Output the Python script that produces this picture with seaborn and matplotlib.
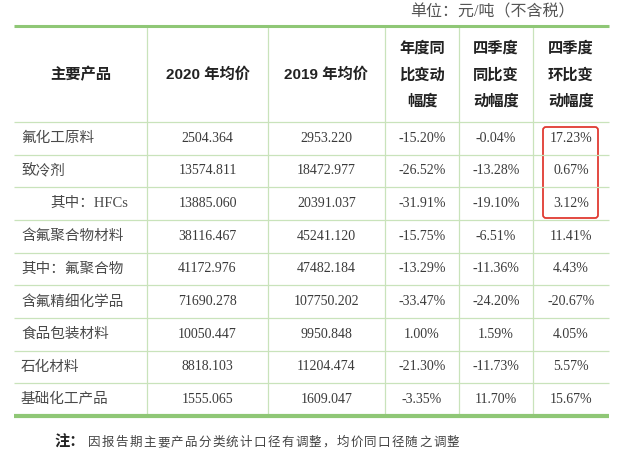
import numpy as np
import pandas as pd
import matplotlib.pyplot as plt
import seaborn as sns
from matplotlib.patches import FancyBboxPatch, Rectangle

# 表格数据
products = ['氟化工原料', '致冷剂', '其中：HFCs', '含氟聚合物材料', '其中：氟聚合物',
            '含氟精细化学品', '食品包装材料', '石化材料', '基础化工产品']
price_2020 = [2504.364, 13574.811, 13885.060, 38116.467, 41172.976,
              71690.278, 10050.447, 8818.103, 1555.065]
price_2019 = [2953.220, 18472.977, 20391.037, 45241.120, 47482.184,
              107750.202, 9950.848, 11204.474, 1609.047]
yoy = [-15.20, -26.52, -31.91, -15.75, -13.29, -33.47, 1.00, -21.30, -3.35]
q4_yoy = [-0.04, -13.28, -19.10, -6.51, -11.36, -24.20, 1.59, -11.73, 11.70]
q4_qoq = [17.23, 0.67, 3.12, 11.41, 4.43, -20.67, 4.05, 5.57, 15.67]
headers = ['主要产品', '2020 年均价', '2019 年均价',
           '年度同\n比变动\n幅度', '四季度\n同比变\n动幅度', '四季度\n环比变\n动幅度']
unit_text = '单位：元/吨（不含税）'
note_text = '因报告期主要产品分类统计口径有调整，均价同口径随之调整'

df = pd.DataFrame({
    'product': products,
    'p2020': [f'{v:.3f}' for v in price_2020],
    'p2019': [f'{v:.3f}' for v in price_2019],
    'yoy': [f'{v:.2f}%' for v in yoy],
    'q4_yoy': [f'{v:.2f}%' for v in q4_yoy],
    'q4_qoq': [f'{v:.2f}%' for v in q4_qoq],
})

sns.set_theme(style='white')
plt.rcParams['font.family'] = ['Liberation Serif', 'Noto Sans CJK SC', 'DejaVu Sans']

fig = plt.figure(figsize=(6.17, 4.62), dpi=100)
ax = fig.add_axes([0, 0, 1, 1])
ax.set_xlim(0, 617)
ax.set_ylim(462, 0)
ax.axis('off')

# 版式
col_edges = [14, 147, 268, 385, 459, 533, 609]
top, head_bottom, bottom = 26, 122, 416
row_h = (bottom - head_bottom) / len(products)
row_edges = [head_bottom + i * row_h for i in range(len(products) + 1)]

thin = '#c9e3bb'
thick = '#8fc776'
text_c = '#3a3a3a'

ax.hlines(row_edges[:-1], col_edges[0], col_edges[-1], color=thin, lw=0.9)
ax.vlines(col_edges[1:-1], top, bottom, color=thin, lw=0.9)
ax.hlines([top], col_edges[0], col_edges[-1], color=thick, lw=2.2)
ax.hlines([bottom], col_edges[0], col_edges[-1], color=thick, lw=3.0)

# 表头
sans_bold = ['Liberation Sans', 'Noto Sans CJK SC']
for i, h in enumerate(headers):
    cx = (col_edges[i] + col_edges[i + 1]) / 2
    ax.text(cx, (top + head_bottom) / 2 + 1, h, ha='center', va='center',
            fontsize=11, fontweight='bold', family=sans_bold, color='#222222',
            linespacing=2.0)

# 表体
cols = ['p2020', 'p2019', 'yoy', 'q4_yoy', 'q4_qoq']
for r, row in df.iterrows():
    cy = (row_edges[r] + row_edges[r + 1]) / 2
    x0 = 50 if row['product'] == '其中：HFCs' else 21
    ax.text(x0, cy, row['product'], ha='left', va='center', fontsize=10.5,
            color='#4a4a4a', family=['Liberation Serif', 'Noto Sans CJK SC'])
    for j, c in enumerate(cols):
        cx = (col_edges[j + 1] + col_edges[j + 2]) / 2
        ax.text(cx, cy, row[c], ha='center', va='center', fontsize=10,
                color=text_c)

# 红框
box = FancyBboxPatch((543, 127), 55, 91,
                     boxstyle='round,pad=0,rounding_size=3', fill=False,
                     ec='#e03a32', lw=1.3)
ax.add_patch(box)

ax.text(575, 12, unit_text, ha='right', va='center', fontsize=11.5,
        color='#555555')

# 注释（底部被截断）
ax.text(54, 443, '注：', ha='left', va='center', fontsize=11,
        fontweight='bold', family=sans_bold, color='#222222')
for k, ch in enumerate(note_text):
    ax.text(88 + k * 13.8, 443, ch, ha='left', va='center', fontsize=9,
            color='#444444')
ax.add_patch(Rectangle((0, 448), 617, 20, color='white', zorder=5))

fig.savefig('out.png', dpi=100)
